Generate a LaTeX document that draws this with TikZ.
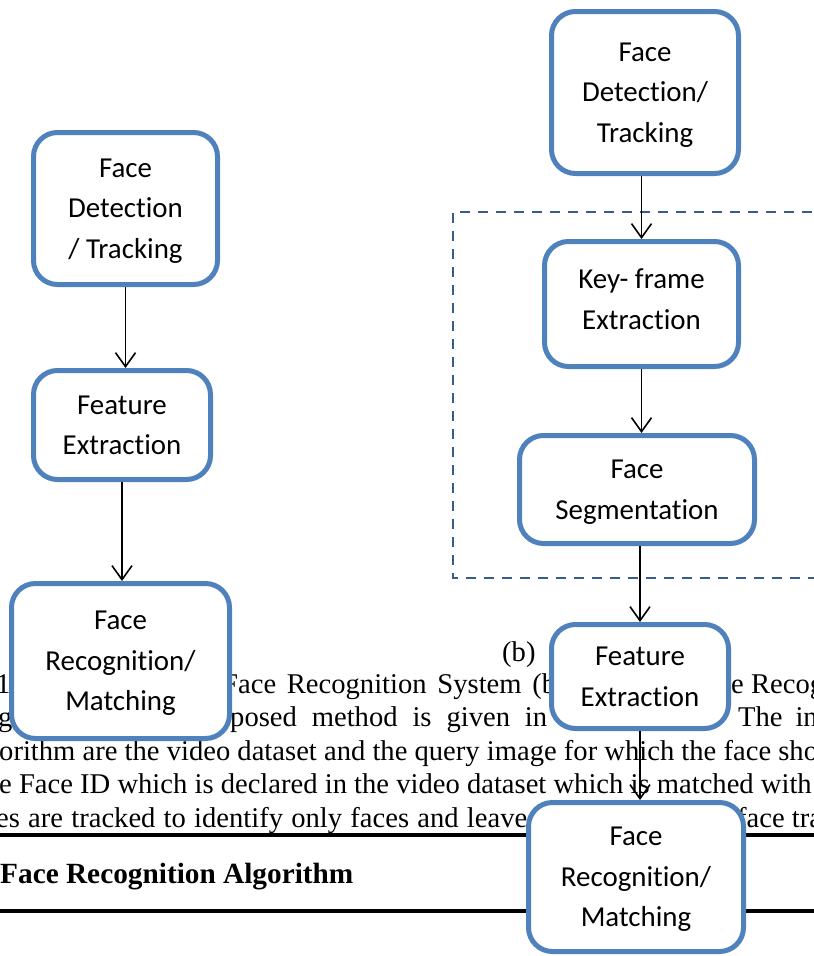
\documentclass[tikz,border=0pt]{standalone}
\usepackage{fontspec}
\setmainfont{Liberation Serif}
\newfontfamily\boxfont[Ligatures=NoCommon]{Carlito}
\usepackage{xcolor}
\definecolor{Blue}{RGB}{79,129,189}
\definecolor{DarkBlue}{RGB}{56,93,138}
\definecolor{Black}{RGB}{0,0,0}
\definecolor{White}{RGB}{255,255,255}
\newcommand{\papersize}{\fontsize{28.6}{34}\selectfont}
\usetikzlibrary{arrows.meta}

\begin{document}
\begin{tikzpicture}[x=1pt, y=-1pt,
	flowbox/.style={draw=Blue, fill=White, line width=5pt, rounded corners=24pt, align=center, inner sep=0pt, text depth=0pt, font=\boxfont\fontsize{28.9}{40.5}\selectfont},
	paper/.style={anchor=base west, inner sep=0pt, font=\papersize, text=Black},
	flow/.style={-{Straight Barb[length=14pt, width=20pt]}, draw=Black, line width=1.6pt}]
		
		\useasboundingbox (0,0) rectangle (814,956);
		\clip (0,0) rectangle (814,956);
		\fill[White] (0,0) rectangle (814,956);
		
		% Paper text
		\node[paper] (one) at (-4,693) {1};
		\node[paper] (caption) at (222,693) {\makebox[334pt][s]{Face Recognition System (b}};
		\node[paper] (captionend) at (731,693) {e Recog};
		
		\node[paper] (gfrag) at (-2,726.5) {g};
		\node[paper] (method) at (230,726.5) {\makebox[317pt][s]{posed method is given in}};
		\node[paper] (input) at (738,726.5) {The\hspace{0.45em}in};
		
		\node[paper] (algo) at (-1,760) {orithm are the video dataset and the query image for which the face sho};
		\node[paper] (faceid) at (-1,793.5) {e Face ID which is declared in the video dataset which is matched with};
		\node[paper] (tracked) at (-4,827) {\makebox[531pt][s]{es are tracked to identify only faces and leave}};
		\node[paper] (tracking) at (737,827) {face tra};
		
		\node[paper] (sub) at (502,661) {(b)};
		
		% Rules and heading
		\draw[draw=Black, line width=3.5pt] (0,835) -- (814,835);
		\node[paper, font=\fontsize{29.3}{34}\selectfont\bfseries] (heading) at (0,883) {Face Recognition Algorithm};
		\draw[draw=Black, line width=3.5pt] (0,911) -- (814,911);
		
		% Dashed group
		\draw[draw=DarkBlue, line width=2.5pt, dash pattern=on 10pt off 8pt] (830,212) -- (453,212) -- (453,578) -- (830,578);
		
		% Boxes (a)
		\node[flowbox, minimum width=184pt, minimum height=152pt] (detA) at (125.5,208.5) {Face\\Detection\\/ Tracking};
		\node[flowbox, minimum width=177pt, minimum height=109pt, text depth=-6pt] (featA) at (122,425) {Feature\\Extraction};
		\node[flowbox, minimum width=218pt, minimum height=155pt] (recA) at (120.5,661) {Face\\Recognition/\\Matching};
		
		% Boxes (b)
		\node[flowbox, minimum width=187pt, minimum height=162pt] (detB) at (645,92.5) {Face\\Detection/\\Tracking};
		\node[flowbox, minimum width=194pt, minimum height=125pt, text depth=10pt] (keyB) at (641.5,304) {Key- frame\\Extraction};
		\node[flowbox, minimum width=235pt, minimum height=108pt] (segB) at (637,489.5) {Face\\Segmentation};
		\node[flowbox, minimum width=177pt, minimum height=104pt, text depth=-6pt] (featB) at (640,676.5) {Feature\\Extraction};
		\node[flowbox, minimum width=215pt, minimum height=149pt] (recB) at (636,877) {Face\\Recognition/\\Matching};
		
		% Arrows
		\draw[flow] (detA.south) -- (detA.south |- featA.north);
		\draw[flow] (featA.south) -- (featA.south |- recA.north);
		
		\draw[flow] (detB.south -| keyB.north) -- (keyB.north);
		\draw[flow] (keyB.south) -- (keyB.south |- segB.north);
		\draw[flow] (segB.south -| featB.north) -- (featB.north);
		\draw[flow] (featB.south) -- (featB.south |- recB.north);
		
	\end{tikzpicture}
\end{document}
